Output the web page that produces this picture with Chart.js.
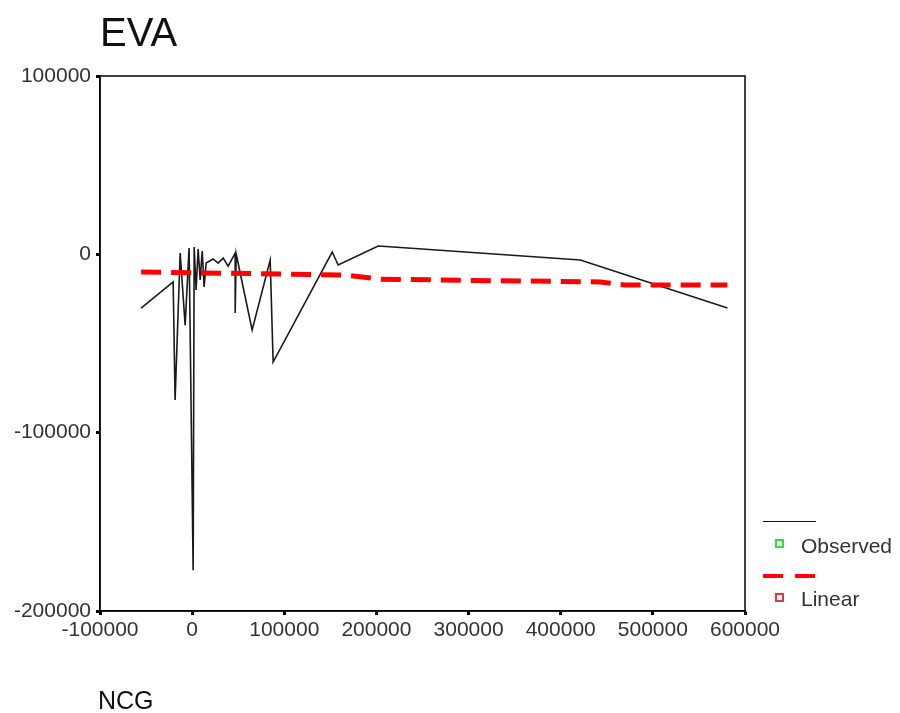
<!DOCTYPE html>
<html>
<head>
<meta charset="utf-8">
<script src="https://cdn.jsdelivr.net/npm/chart.js@4/dist/chart.umd.min.js"></script>
<style>
  body { margin: 0; background: #fff; }
  #wrap { position: relative; width: 900px; height: 713px; font-family: "Liberation Sans", Arial, sans-serif; color: #111; }
  #chart { position: absolute; left: 0; top: 0; }
  .txt { position: absolute; line-height: 1; white-space: nowrap; }
  .lg-line { position: absolute; height: 0; }
  .lg-box { position: absolute; width: 5px; height: 5px; }
</style>
</head>
<body>
<div id="wrap">
  <canvas id="chart" width="900" height="713"></canvas>
  <div class="txt" style="left:100px; top:12px; font-size:40px;">EVA</div>
  <div class="txt" style="left:98px; top:688px; font-size:25px;">NCG</div>

  <!-- legend -->
  <div class="lg-line" style="left:763px; top:521px; width:53px; border-top:1.5px solid #111;"></div>
  <div class="lg-box" style="left:775px; top:539px; border:2px solid #39d83c;"></div>
  <div class="txt" style="left:801px; top:535px; font-size:21px; color:#333;">Observed</div>
  <div class="lg-line" style="left:763px; top:574px; width:20px; border-top:4px solid #f00;"></div>
  <div class="lg-line" style="left:795px; top:574px; width:20px; border-top:4px solid #f00;"></div>
  <div class="lg-box" style="left:775px; top:593px; border:2px solid #e8304a;"></div>
  <div class="txt" style="left:801px; top:588px; font-size:21px; color:#333;">Linear</div>
</div>

<script>
// observed EVA against NCG
const obsX = [-55400, -20600, -18500, -13000, -7600, -3300, 1100, 2200, 4300, 6500, 8700, 10900, 13000,
              15200, 22800, 28200, 33700, 39100, 46700, 46700, 47800, 65100, 84700, 87900,
              152000, 158500, 201900, 218200, 421300, 580900];
const obsY = [-30100, -15500, -81700, 700, -39700, 3500, -177100, 4100, -20000, 3000, -14400, 1900, -18300,
              -4900, -2600, -4900, -2100, -6600, 700, -32900, 200, -42400, -3200, -60400,
              1300, -6000, 4700, 4100, -3200, -30100];

// linear fit line
const fitX = [-55400, 166100, 204100, 269300, 443000, 470200, 580900];
const fitY = [-9900, -11600, -13900, -14400, -15500, -17200, -17200];

const xTicks = [-100000, 0, 100000, 200000, 300000, 400000, 500000, 600000];
const yTicks = [-200000, -100000, 0, 100000];

const toPts = (xs, ys) => xs.map((x, i) => ({ x: x, y: ys[i] }));

// black frame round the plot area
const frame = {
  id: 'frame',
  afterDraw(chart) {
    const a = chart.chartArea;
    const ctx = chart.ctx;
    ctx.save();
    ctx.strokeStyle = '#000';
    ctx.lineWidth = 1.5;
    ctx.strokeRect(a.left, a.top, a.right - a.left, a.bottom - a.top);
    ctx.restore();
  }
};

const tickFont = { family: '"Liberation Sans", Arial, sans-serif', size: 21 };

new Chart(document.getElementById('chart').getContext('2d'), {
  type: 'scatter',
  data: {
    datasets: [
      {
        label: 'Linear',
        data: toPts(fitX, fitY),
        showLine: true,
        borderColor: '#ff0000',
        borderWidth: 5,
        borderDash: [20, 10],
        pointRadius: 0,
        fill: false
      },
      {
        label: 'Observed',
        data: toPts(obsX, obsY),
        showLine: true,
        borderColor: '#1a1a1a',
        borderWidth: 1.6,
        pointRadius: 0,
        fill: false
      }
    ]
  },
  options: {
    responsive: false,
    animation: false,
    layout: { padding: { left: 0, right: 155, top: 76, bottom: 62 } },
    plugins: {
      legend: { display: false },
      title: { display: false },
      tooltip: { enabled: false }
    },
    scales: {
      x: {
        type: 'linear',
        min: -100000,
        max: 600000,
        afterBuildTicks: (s) => { s.ticks = xTicks.map(v => ({ value: v })); },
        afterFit: (s) => { s.height = 40; },
        grid: { drawOnChartArea: false, drawTicks: true, tickLength: 4, tickWidth: 3, color: '#000' },
        border: { color: '#000', width: 1.5 },
        ticks: { color: '#333', font: tickFont, padding: 3, maxRotation: 0, autoSkip: false,
                 callback: (v) => String(v) }
      },
      y: {
        type: 'linear',
        min: -200000,
        max: 100000,
        afterBuildTicks: (s) => { s.ticks = yTicks.map(v => ({ value: v })); },
        afterFit: (s) => { s.width = 100; },
        grid: { drawOnChartArea: false, drawTicks: true, tickLength: 4, tickWidth: 3, color: '#000' },
        border: { color: '#000', width: 1.5 },
        ticks: { color: '#333', font: tickFont, padding: 5, autoSkip: false,
                 callback: (v) => String(v) }
      }
    }
  },
  plugins: [frame]
});
</script>
</body>
</html>
